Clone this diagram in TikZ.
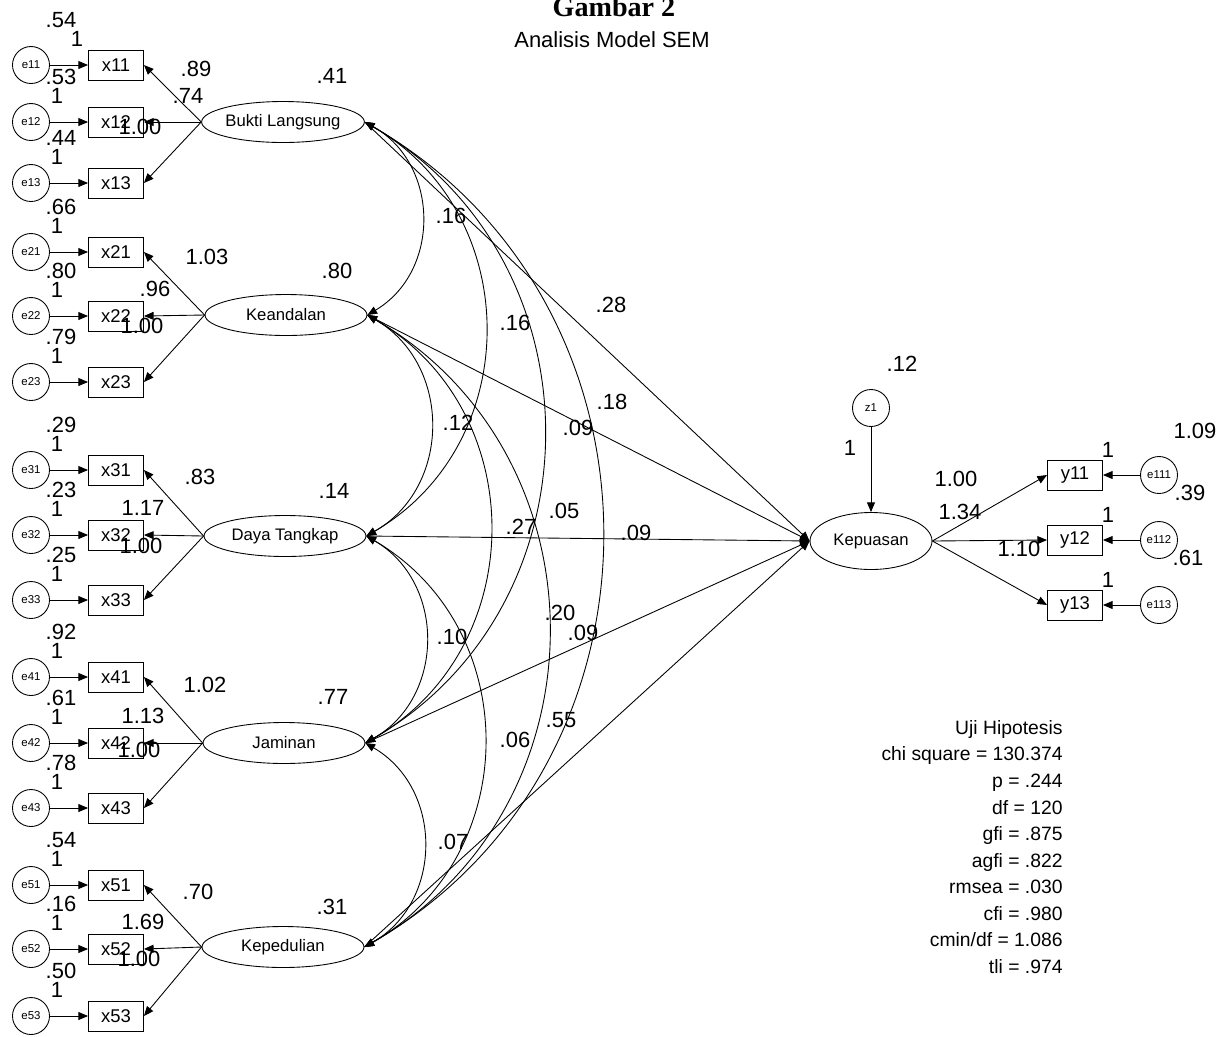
\documentclass[tikz,border=0pt]{standalone}
\usepackage{fontspec}
\setmainfont{Liberation Sans}
\newfontfamily\titlefont{Liberation Serif}
\usetikzlibrary{arrows.meta,shapes.geometric}

\begin{document}
\begin{tikzpicture}[x=0.02cm, y=-0.02cm, line width=0.5pt, >={Triangle[length=5.5pt,width=4.5pt]}]
        \tikzstyle{lat} = [draw, ellipse, inner sep=0pt, minimum width=3.24cm, minimum height=0.82cm, font=\fontsize{9.5}{11}\selectfont]
        \tikzstyle{obs} = [draw, rectangle, inner sep=0pt, minimum width=1.1cm, minimum height=0.6cm, font=\fontsize{10.5}{12}\selectfont]
        \tikzstyle{err} = [draw, circle, inner sep=0pt, minimum size=0.74cm, font=\fontsize{6.5}{7}\selectfont]
        \tikzstyle{est} = [inner sep=0pt, font=\fontsize{12.5}{14}\selectfont]
        \tikzstyle{reg} = [->]
        \tikzstyle{cov} = [<->, bend left=60, looseness=1.135]

        \useasboundingbox (0,0) rectangle (1225,1036);

        \node (ttl) [anchor=base, font=\titlefont\bfseries\fontsize{16}{18}\selectfont] at (614,16) {Gambar 2};
        \node (sub) [font=\fontsize{12.5}{14}\selectfont] at (612,40) {Analisis Model SEM};

        % latent variables
        \node (bl) [lat] at (283,122) {Bukti Langsung};
        \node (kd) [lat] at (286,315) {Keandalan};
        \node (dt) [lat] at (285,536) {Daya Tangkap};
        \node (jm) [lat] at (284,743) {Jaminan};
        \node (kp) [lat] at (283,947) {Kepedulian};
        \node (kps) [lat, minimum width=2.44cm, minimum height=1.14cm] at (871,541) {Kepuasan};
        \node (z1) [err] at (871,408) {z1};

        % indicators with their errors
        \foreach \i/\y/\var/\ox in {11/65/.54/77, 12/122/.53/57, 13/183/.44/57,
                21/252/.66/57, 22/316/.80/57, 23/382/.79/57,
                31/470/.29/57, 32/535/.23/57, 33/600/.25/57,
                41/677/.92/57, 42/743/.61/57, 43/808/.78/57,
                51/885/.54/57, 52/949/.16/57, 53/1016/.50/57} {
            \node (e\i) [err] at (31,\y) {e\i};
            \node (x\i) [obs] at (116,\y) {x\i};
            \node (v\i) [est] at (61,\y-45) {\var};
            \node (o\i) [est] at (\ox,\y-26) {1};
            \draw [reg] (e\i) -- (x\i);
        }

        \foreach \l/\a in {bl/1, kd/2, dt/3, jm/4, kp/5} {
            \foreach \j in {1,2,3} \draw [reg] (\l.west) -- (x\a\j.east);
            \draw [reg] (\l.east) -- (kps.west);
        }

        % covariances
        \foreach \a/\b in {bl/kd, kd/dt, dt/jm, jm/kp, bl/dt, kd/jm, dt/kp, bl/jm, kd/kp, bl/kp}
            \draw [cov] (\a.east) to (\b.east);

        % endogenous side
        \draw [reg] (z1) -- (kps);
        \foreach \k/\y in {1/475, 2/540, 3/605} {
            \node (y1\k) [obs] at (1075,\y) {y1\k};
            \node (e11\k) [err] at (1159,\y) {e11\k};
            \node (u\k) [est] at (1108,\y-25) {1};
            \draw [reg] (kps.east) -- (y1\k.west);
            \draw [reg] (e11\k) -- (y1\k);
        }

        % estimates
        \node (s1) [est] at (332,76) {.41};
        \node (s2) [est] at (337,271) {.80};
        \node (s3) [est] at (334,491) {.14};
        \node (s4) [est] at (333,697) {.77};
        \node (s5) [est] at (332,907) {.31};

        \node (a11) [est] at (196,69) {.89};
        \node (a12) [est] at (188,96) {.74};
        \node (a13) [est] at (140,127) {1.00};
        \node (a21) [est] at (207,257) {1.03};
        \node (a22) [est] at (155,289) {.96};
        \node (a23) [est] at (142,326) {1.00};
        \node (a31) [est] at (200,477) {.83};
        \node (a32) [est] at (143,508) {1.17};
        \node (a33) [est] at (141,546) {1.00};
        \node (a41) [est] at (205,685) {1.02};
        \node (a42) [est] at (143,716) {1.13};
        \node (a43) [est] at (139,750) {1.00};
        \node (a51) [est] at (198,892) {.70};
        \node (a52) [est] at (143,922) {1.69};
        \node (a53) [est] at (139,959) {1.00};

        \node (c1) [est] at (451,216) {.16};
        \node (c2) [est] at (515,323) {.16};
        \node (c3) [est] at (611,305) {.28};
        \node (c4) [est] at (612,402) {.18};
        \node (c5) [est] at (458,423) {.12};
        \node (c6) [est] at (578,428) {.09};
        \node (c7) [est] at (564,511) {.05};
        \node (c8) [est] at (521,527) {.27};
        \node (c9) [est] at (636,533) {.09};
        \node (c10) [est] at (560,613) {.20};
        \node (c11) [est] at (583,633) {.09};
        \node (c12) [est] at (452,637) {.10};
        \node (c13) [est] at (561,720) {.55};
        \node (c14) [est] at (515,740) {.06};
        \node (c15) [est] at (453,842) {.07};

        \node (r1) [est] at (902,364) {.12};
        \node (r2) [est] at (850,448) {1};
        \node (r3) [est] at (956,479) {1.00};
        \node (r4) [est] at (960,512) {1.34};
        \node (r5) [est] at (1019,549) {1.10};
        \node (r6) [est] at (1195,431) {1.09};
        \node (r7) [est] at (1190,493) {.39};
        \node (r8) [est] at (1188,558) {.61};

        \node (fit) [align=right, anchor=north east, inner sep=0pt, font=\fontsize{11}{15.1}\selectfont] at (1063,720)
            {Uji Hipotesis\\ chi square = 130.374\\ p = .244\\ df = 120\\ gfi = .875\\ agfi = .822\\
             rmsea = .030\\ cfi = .980\\ cmin/df = 1.086\\ tli = .974};

    \end{tikzpicture}
\end{document}
